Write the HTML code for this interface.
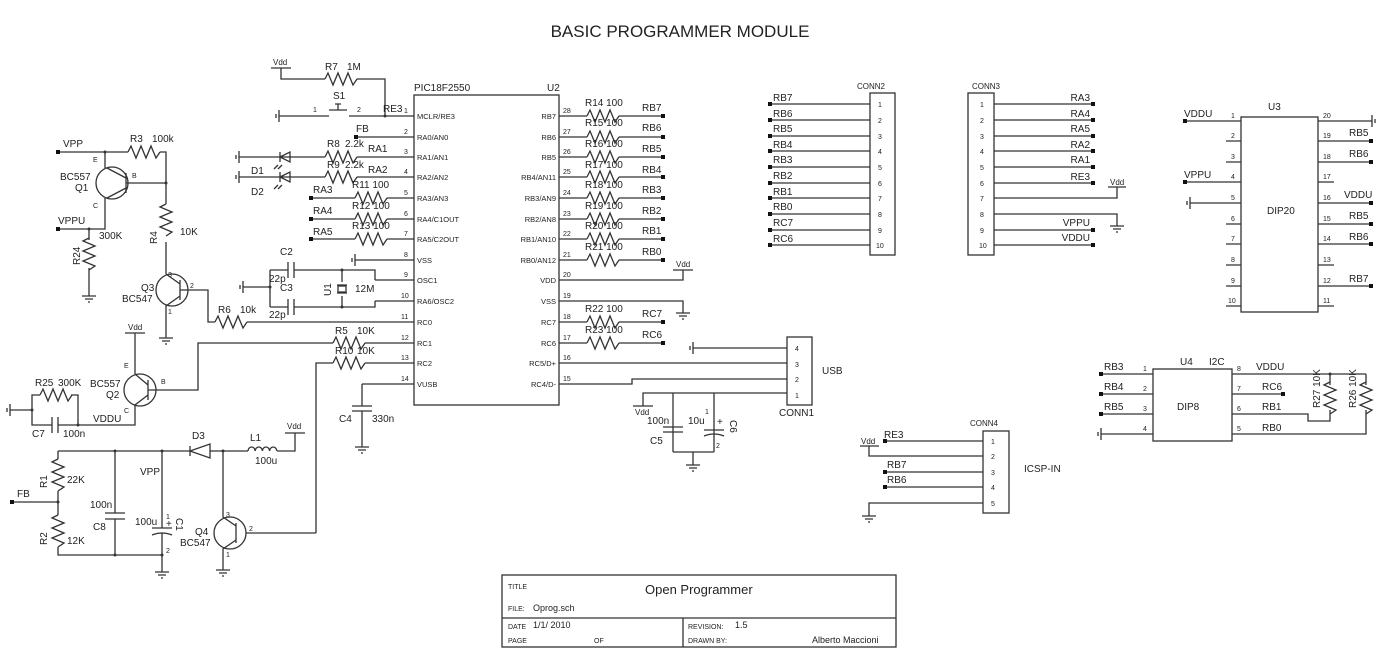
<!DOCTYPE html>
<html><head><meta charset="utf-8"><style>
html,body{margin:0;padding:0;background:#fff}
svg{display:block}
text{font-family:"Liberation Sans",Arial,sans-serif;fill:#222}
.w{stroke:#333;stroke-width:1.3;fill:none}
.s{font-size:10px}.p{font-size:7px}.m{font-size:11px}
</style></head><body>
<svg width="1397" height="667" viewBox="0 0 1397 667" xmlns="http://www.w3.org/2000/svg">
<defs>
<path id="rh" d="M0,0 l3,-6 l5,12 l5,-12 l5,12 l5,-12 l5,12 l4,-6" class="w"/>
<path id="rv" d="M0,0 l-6,3 l12,5 l-12,5 l12,5 l-12,5 l12,5 l-6,4" class="w"/>
<g id="gl"><path d="M0,-6 V6 M-3,-2 V2" class="w"/></g>
<g id="gd"><path d="M-7,0 H7 M-4,3 H4 M-1,6 H1" class="w"/></g>
<rect id="t" x="-2" y="-2" width="4" height="4" fill="#111"/>
</defs>
<text x="680" y="37" font-size="17" text-anchor="middle">BASIC PROGRAMMER MODULE</text>

<!-- PIC -->
<rect x="414" y="95" width="145" height="310" class="w"/>
<text x="414" y="91" class="s">PIC18F2550</text><text x="547" y="91" class="s">U2</text>
<g class="w">
<path d="M385,116H414 M356,137H414 M357,157H414 M357,177H414 M387,198H414 M387,219H414 M387,239H414 M355,260H414 M375,280H414 M375,301H414 M247,322H414 M365,343H414 M365,363H414 M362,384H414"/>
<path d="M559,116H587 M559,137H587 M559,157H587 M559,177H587 M559,198H587 M559,219H587 M559,239H587 M559,260H587 M559,322H587 M559,343H587"/>
<path d="M619,116H663 M619,137H663 M619,157H663 M619,177H663 M619,198H663 M619,219H663 M619,239H663 M619,260H663 M619,322H663 M619,343H663"/>
<path d="M559,280H683V270 M559,301H683V313 M559,363H787 M559,384H632V379H787"/>
</g>
<g class="p">
<text x="404" y="113">1</text><text x="404" y="134">2</text><text x="404" y="154">3</text><text x="404" y="174">4</text><text x="404" y="195">5</text><text x="404" y="216">6</text><text x="404" y="236">7</text><text x="404" y="257">8</text><text x="404" y="277">9</text><text x="401" y="298">10</text><text x="401" y="319">11</text><text x="401" y="340">12</text><text x="401" y="360">13</text><text x="401" y="381">14</text>
<text x="563" y="113">28</text><text x="563" y="134">27</text><text x="563" y="154">26</text><text x="563" y="174">25</text><text x="563" y="195">24</text><text x="563" y="216">23</text><text x="563" y="236">22</text><text x="563" y="257">21</text><text x="563" y="277">20</text><text x="563" y="298">19</text><text x="563" y="319">18</text><text x="563" y="340">17</text><text x="563" y="360">16</text><text x="563" y="381">15</text>
</g>
<g font-size="7.5">
<text x="417" y="119">MCLR/RE3</text><text x="417" y="140">RA0/AN0</text><text x="417" y="160">RA1/AN1</text><text x="417" y="180">RA2/AN2</text><text x="417" y="201">RA3/AN3</text><text x="417" y="222">RA4/C1OUT</text><text x="417" y="242">RA5/C2OUT</text><text x="417" y="263">VSS</text><text x="417" y="283">OSC1</text><text x="417" y="304">RA6/OSC2</text><text x="417" y="325">RC0</text><text x="417" y="346">RC1</text><text x="417" y="366">RC2</text><text x="417" y="387">VUSB</text>
<g text-anchor="end"><text x="556" y="119">RB7</text><text x="556" y="140">RB6</text><text x="556" y="160">RB5</text><text x="556" y="180">RB4/AN11</text><text x="556" y="201">RB3/AN9</text><text x="556" y="222">RB2/AN8</text><text x="556" y="242">RB1/AN10</text><text x="556" y="263">RB0/AN12</text><text x="556" y="283">VDD</text><text x="556" y="304">VSS</text><text x="556" y="325">RC7</text><text x="556" y="346">RC6</text><text x="556" y="366">RC5/D+</text><text x="556" y="387">RC4/D-</text></g>
</g>
<!-- right resistors -->
<use href="#rh" x="587" y="116"/><use href="#rh" x="587" y="137"/><use href="#rh" x="587" y="157"/><use href="#rh" x="587" y="177"/><use href="#rh" x="587" y="198"/><use href="#rh" x="587" y="219"/><use href="#rh" x="587" y="239"/><use href="#rh" x="587" y="260"/><use href="#rh" x="587" y="322"/><use href="#rh" x="587" y="343"/>
<g class="s">
<text x="585" y="106">R14 100</text><text x="585" y="126">R15 100</text><text x="585" y="147">R16 100</text><text x="585" y="168">R17 100</text><text x="585" y="188">R18 100</text><text x="585" y="209">R19 100</text><text x="585" y="229">R20 100</text><text x="585" y="250">R21 100</text><text x="585" y="312">R22 100</text><text x="585" y="333">R23 100</text>
<text x="642" y="111">RB7</text><text x="642" y="131">RB6</text><text x="642" y="152">RB5</text><text x="642" y="173">RB4</text><text x="642" y="193">RB3</text><text x="642" y="214">RB2</text><text x="642" y="234">RB1</text><text x="642" y="255">RB0</text><text x="642" y="317">RC7</text><text x="642" y="338">RC6</text>
</g>
<use href="#t" x="663" y="116"/><use href="#t" x="663" y="137"/><use href="#t" x="663" y="157"/><use href="#t" x="663" y="177"/><use href="#t" x="663" y="198"/><use href="#t" x="663" y="219"/><use href="#t" x="663" y="239"/><use href="#t" x="663" y="260"/><use href="#t" x="663" y="322"/><use href="#t" x="663" y="343"/>
<path d="M673,270H693" class="w"/><text x="676" y="267" font-size="8">Vdd</text>
<use href="#gd" x="683" y="313"/>

<!-- USB CONN1 -->
<rect x="787" y="337" width="25" height="68" class="w"/>
<g class="p"><text x="795" y="351">4</text><text x="795" y="367">3</text><text x="795" y="382">2</text><text x="795" y="398">1</text></g>
<text x="822" y="374" class="s">USB</text><text x="779" y="416" class="s">CONN1</text>
<path d="M693,348H787 M643,406V393H787 M673,393V452 M714,393V452 M673,452H714 M693,452V465" class="w"/>
<use href="#gl" x="693" y="348"/>
<path d="M633,406H653" class="w"/><text x="635" y="415" font-size="8">Vdd</text>
<path d="M663,427H683 M663,432H683 M704,430H724 M704,436Q714,432 724,436" class="w"/>
<use href="#gd" x="693" y="465"/>
<text x="647" y="424" class="s">100n</text><text x="688" y="424" class="s">10u</text><text x="650" y="444" class="s">C5</text>
<text x="717" y="425" class="s">+</text><text x="730" y="420" class="s" transform="rotate(90 730 420)">C6</text>
<text x="705" y="414" class="p">1</text><text x="716" y="448" class="p">2</text>

<!-- CONN2 -->
<rect x="870" y="93" width="25" height="162" class="w"/>
<text x="857" y="89" font-size="8">CONN2</text>
<g class="w"><path d="M770,104H870 M770,120H870 M770,136H870 M770,151H870 M770,167H870 M770,183H870 M770,198H870 M770,214H870 M770,230H870 M770,245H870"/></g>
<g class="p"><text x="878" y="107">1</text><text x="878" y="123">2</text><text x="878" y="139">3</text><text x="878" y="154">4</text><text x="878" y="170">5</text><text x="878" y="186">6</text><text x="878" y="201">7</text><text x="878" y="217">8</text><text x="878" y="233">9</text><text x="876" y="248">10</text></g>
<g class="s"><text x="773" y="101">RB7</text><text x="773" y="117">RB6</text><text x="773" y="132">RB5</text><text x="773" y="148">RB4</text><text x="773" y="163">RB3</text><text x="773" y="179">RB2</text><text x="773" y="195">RB1</text><text x="773" y="210">RB0</text><text x="773" y="226">RC7</text><text x="773" y="242">RC6</text></g>
<use href="#t" x="770" y="104"/><use href="#t" x="770" y="120"/><use href="#t" x="770" y="136"/><use href="#t" x="770" y="151"/><use href="#t" x="770" y="167"/><use href="#t" x="770" y="183"/><use href="#t" x="770" y="198"/><use href="#t" x="770" y="214"/><use href="#t" x="770" y="230"/><use href="#t" x="770" y="245"/>

<!-- CONN3 -->
<rect x="968" y="93" width="26" height="162" class="w"/>
<text x="972" y="89" font-size="8">CONN3</text>
<g class="w"><path d="M994,104H1093 M994,120H1093 M994,136H1093 M994,151H1093 M994,167H1093 M994,183H1093 M994,198H1117V187 M994,214H1117V226 M994,230H1093 M994,245H1093"/></g>
<g class="p"><text x="980" y="107">1</text><text x="980" y="123">2</text><text x="980" y="139">3</text><text x="980" y="154">4</text><text x="980" y="170">5</text><text x="980" y="186">6</text><text x="980" y="201">7</text><text x="980" y="217">8</text><text x="980" y="233">9</text><text x="979" y="248">10</text></g>
<g class="s" text-anchor="end"><text x="1090" y="101">RA3</text><text x="1090" y="117">RA4</text><text x="1090" y="132">RA5</text><text x="1090" y="148">RA2</text><text x="1090" y="163">RA1</text><text x="1090" y="180">RE3</text><text x="1090" y="226">VPPU</text><text x="1090" y="241">VDDU</text></g>
<use href="#t" x="1093" y="104"/><use href="#t" x="1093" y="120"/><use href="#t" x="1093" y="136"/><use href="#t" x="1093" y="151"/><use href="#t" x="1093" y="167"/><use href="#t" x="1093" y="183"/><use href="#t" x="1093" y="230"/><use href="#t" x="1093" y="245"/>
<path d="M1108,187H1126" class="w"/><text x="1110" y="185" font-size="8">Vdd</text>
<use href="#gd" x="1117" y="226"/>

<!-- U3 -->
<rect x="1241" y="117" width="77" height="195" class="w"/>
<text x="1268" y="110" class="s">U3</text><text x="1267" y="214" class="s">DIP20</text>
<g class="w"><path d="M1185,121H1241 M1226,141H1241 M1226,162H1241 M1185,182H1241 M1190,203H1241 M1226,224H1241 M1226,244H1241 M1226,265H1241 M1226,286H1241 M1226,306H1241
M1318,121H1372 M1318,141H1371 M1318,162H1371 M1318,182H1334 M1318,203H1371 M1318,224H1371 M1318,244H1371 M1318,265H1334 M1318,286H1371 M1318,306H1334"/></g>
<use href="#gl" x="1190" y="203"/><g transform="translate(1372,121) scale(-1,1)"><use href="#gl"/></g>
<g class="p"><text x="1231" y="118">1</text><text x="1231" y="138">2</text><text x="1231" y="159">3</text><text x="1231" y="179">4</text><text x="1231" y="200">5</text><text x="1231" y="221">6</text><text x="1231" y="241">7</text><text x="1231" y="262">8</text><text x="1231" y="283">9</text><text x="1228" y="303">10</text>
<text x="1323" y="118">20</text><text x="1323" y="138">19</text><text x="1323" y="159">18</text><text x="1323" y="179">17</text><text x="1323" y="200">16</text><text x="1323" y="221">15</text><text x="1323" y="241">14</text><text x="1323" y="262">13</text><text x="1323" y="283">12</text><text x="1323" y="303">11</text></g>
<g class="s"><text x="1184" y="117">VDDU</text><text x="1184" y="178">VPPU</text>
<text x="1349" y="136">RB5</text><text x="1349" y="157">RB6</text><text x="1344" y="198">VDDU</text><text x="1349" y="219">RB5</text><text x="1349" y="240">RB6</text><text x="1349" y="282">RB7</text></g>
<use href="#t" x="1185" y="121"/><use href="#t" x="1185" y="182"/><use href="#t" x="1371" y="141"/><use href="#t" x="1371" y="162"/><use href="#t" x="1371" y="203"/><use href="#t" x="1371" y="224"/><use href="#t" x="1371" y="244"/><use href="#t" x="1371" y="286"/>

<!-- U4 -->
<rect x="1153" y="369" width="79" height="72" class="w"/>
<text x="1180" y="365" class="s">U4</text><text x="1209" y="365" class="s">I2C</text><text x="1177" y="410" class="s">DIP8</text>
<g class="w"><path d="M1101,374H1153 M1101,394H1153 M1101,414H1153 M1101,434H1153 M1232,374H1366 M1232,394H1283 M1232,414H1308V421H1330V410 M1232,434H1366V410 M1330,374V385 M1366,374V385"/></g>
<use href="#rv" x="1330" y="382"/><use href="#rv" x="1366" y="382"/>
<circle cx="1330" cy="374" r="1.5" fill="#333"/>
<use href="#gl" x="1101" y="434"/>
<use href="#t" x="1101" y="374"/><use href="#t" x="1101" y="394"/><use href="#t" x="1101" y="414"/><use href="#t" x="1283" y="394"/>
<g class="p"><text x="1143" y="371">1</text><text x="1143" y="391">2</text><text x="1143" y="411">3</text><text x="1143" y="431">4</text><text x="1237" y="371">8</text><text x="1237" y="391">7</text><text x="1237" y="411">6</text><text x="1237" y="431">5</text></g>
<g class="s"><text x="1104" y="370">RB3</text><text x="1104" y="390">RB4</text><text x="1104" y="410">RB5</text><text x="1256" y="370">VDDU</text><text x="1262" y="390">RC6</text><text x="1262" y="410">RB1</text><text x="1262" y="431">RB0</text>
<text x="1320" y="408" transform="rotate(-90 1320 408)">R27 10K</text><text x="1356" y="408" transform="rotate(-90 1356 408)">R26 10K</text></g>

<!-- CONN4 -->
<rect x="983" y="431" width="26" height="82" class="w"/>
<text x="970" y="426" font-size="8">CONN4</text><text x="1024" y="472" class="s">ICSP-IN</text>
<g class="w"><path d="M885,441H983 M869,446V456H983 M885,472H983 M885,487H983 M869,516V503H983 M860,446H879"/></g>
<use href="#gd" x="869" y="516"/>
<g class="p"><text x="991" y="444">1</text><text x="991" y="459">2</text><text x="991" y="475">3</text><text x="991" y="490">4</text><text x="991" y="506">5</text></g>
<text x="861" y="444" font-size="8">Vdd</text>
<g class="s"><text x="884" y="438">RE3</text><text x="887" y="468">RB7</text><text x="887" y="483">RB6</text></g>
<use href="#t" x="885" y="441"/><use href="#t" x="885" y="472"/><use href="#t" x="885" y="487"/>

<!-- left top: R7 S1 -->
<path d="M271,68H291 M281,68V79H325 M357,79H385V116 M279,116H329 M349,116H385 M329,110H347 M338,110V104 M335,104H341" class="w"/>
<use href="#rh" x="325" y="79"/>
<text x="273" y="65" font-size="8">Vdd</text>
<use href="#gl" x="279" y="116"/><circle cx="385" cy="116" r="1.5" fill="#333"/>
<g class="s"><text x="325" y="70">R7</text><text x="347" y="70">1M</text><text x="333" y="99">S1</text><text x="383" y="112">RE3</text><text x="356" y="132">FB</text></g>
<g class="p"><text x="313" y="112">1</text><text x="357" y="112">2</text></g>
<use href="#t" x="356" y="137"/>
<!-- D1 D2 R8 R9 -->
<path d="M239,157H325 M239,177H325 M280,157L290,152V162Z M280,177L290,172V182Z M280,152V162 M280,172V182" class="w"/>
<use href="#gl" x="239" y="157"/><use href="#gl" x="239" y="177"/>
<use href="#rh" x="325" y="157"/><use href="#rh" x="325" y="177"/>
<path d="M278,165l-4,4 M282,165l-4,4 M278,185l-4,4 M282,185l-4,4" class="w" stroke-width="1"/>
<g class="s"><text x="327" y="147">R8</text><text x="345" y="147">2.2k</text><text x="368" y="152">RA1</text><text x="327" y="168">R9</text><text x="345" y="168">2.2k</text><text x="368" y="173">RA2</text><text x="251" y="174">D1</text><text x="251" y="195">D2</text>
<text x="313" y="193">RA3</text><text x="313" y="214">RA4</text><text x="313" y="235">RA5</text><text x="352" y="188">R11 100</text><text x="352" y="209">R12 100</text><text x="352" y="229">R13 100</text></g>
<path d="M311,198H355 M311,219H355 M311,239H355" class="w"/>
<use href="#rh" x="355" y="198"/><use href="#rh" x="355" y="219"/><use href="#rh" x="355" y="239"/>
<use href="#t" x="311" y="198"/><use href="#t" x="311" y="219"/><use href="#t" x="311" y="239"/>
<use href="#gl" x="355" y="260"/>
<!-- crystal -->
<path d="M243,287H270 M270,270V307 M270,270H288 M294,270H375V280 M270,307H288 M294,307H375V301 M288,262V278 M294,262V278 M288,299V315 M294,299V315 M342,270V282 M342,296V307 M337,285H347 M337,293H347" class="w"/>
<rect x="338" y="286" width="8" height="6" class="w"/>
<use href="#gl" x="243" y="287"/>
<circle cx="342" cy="270" r="1.5" fill="#333"/><circle cx="342" cy="307" r="1.5" fill="#333"/><circle cx="270" cy="287" r="1.5" fill="#333"/>
<g class="s"><text x="280" y="255">C2</text><text x="269" y="282">22p</text><text x="280" y="291">C3</text><text x="269" y="318">22p</text><text x="355" y="292">12M</text><text x="331" y="296" transform="rotate(-90 331 296)">U1</text></g>

<!-- Q1 -->
<path d="M58,152H128 M160,152H166V204 M166,242V274 M126,183H166 M105,152V168 M105,198V229H58 M89,229V240 M89,268V296 M126,173V193 M126,178L107,168 M126,188L107,198" class="w"/>
<circle cx="112" cy="183" r="16" class="w"/>
<use href="#rh" x="128" y="152"/><use href="#rv" x="166" y="204"/><use href="#rv" x="89" y="238"/>
<circle cx="105" cy="152" r="1.5" fill="#333"/><circle cx="166" cy="183" r="1.5" fill="#333"/><circle cx="89" cy="229" r="1.5" fill="#333"/>
<use href="#t" x="58" y="152"/><use href="#t" x="58" y="229"/><use href="#gd" x="89" y="296"/>
<g class="s"><text x="63" y="147">VPP</text><text x="58" y="224">VPPU</text><text x="130" y="142">R3</text><text x="152" y="142">100k</text><text x="60" y="180">BC557</text><text x="75" y="191">Q1</text><text x="99" y="239">300K</text><text x="180" y="235">10K</text>
<text x="80" y="265" transform="rotate(-90 80 265)">R24</text><text x="157" y="244" transform="rotate(-90 157 244)">R4</text></g>
<g class="p"><text x="93" y="162">E</text><text x="93" y="208">C</text><text x="132" y="178">B</text></g>
<!-- Q3 -->
<circle cx="172" cy="290" r="16" class="w"/>
<path d="M166,274L180,284 M180,280V300 M180,296L166,306V338 M180,290H208V322H215" class="w"/>
<use href="#rh" x="215" y="322"/><use href="#gd" x="166" y="338"/>
<g class="s"><text x="141" y="291">Q3</text><text x="122" y="302">BC547</text><text x="218" y="313">R6</text><text x="240" y="313">10k</text></g>
<g class="p"><text x="168" y="277">3</text><text x="190" y="288">2</text><text x="168" y="314">1</text></g>
<!-- Q2 -->
<circle cx="140" cy="390" r="16" class="w"/>
<path d="M125,333H145 M135,333V374 M148,380V400 M135,374L148,385 M148,395L135,405V425H78 M148,390H198V343H333 M32,410V395H40 M71,395H78V425 M32,410V425H52 M58,425H78 M52,417V433 M58,417V433 M10,410H32" class="w"/>
<use href="#rh" x="40" y="395"/><use href="#rh" x="333" y="343"/>
<use href="#gl" x="10" y="410"/><circle cx="32" cy="410" r="1.5" fill="#333"/><circle cx="78" cy="425" r="1.5" fill="#333"/>
<text x="128" y="330" font-size="8">Vdd</text>
<g class="s"><text x="90" y="387">BC557</text><text x="106" y="398">Q2</text><text x="35" y="386">R25</text><text x="58" y="386">300K</text><text x="32" y="437">C7</text><text x="63" y="437">100n</text><text x="93" y="422">VDDU</text>
<text x="335" y="334">R5</text><text x="357" y="334">10K</text><text x="335" y="354">R10</text><text x="357" y="354">10K</text></g>
<g class="p"><text x="124" y="368">E</text><text x="124" y="413">C</text><text x="161" y="384">B</text></g>
<!-- R10 / Q4 -->
<path d="M316,533V363H333" class="w"/><use href="#rh" x="333" y="363"/>
<path d="M362,384V406 M352,406H372 M352,411H372 M362,411V447" class="w"/><use href="#gd" x="362" y="447"/>
<g class="s"><text x="339" y="422">C4</text><text x="372" y="422">330n</text></g>
<!-- bottom -->
<path d="M58,451H190 M210,451H248 M277,451H295V433 M285,433H305 M190,446V456 M190,451L210,444V458Z M58,451V459 M58,491V515 M58,547V555H162 M12,502H58 M115,451V513 M115,519V555 M105,513H125 M105,519H125 M162,451V528 M152,528H172 M152,535Q162,531 172,535 M162,533V572" class="w"/>
<path d="M248,451a3.6,4 0 0 1 7.2,0a3.6,4 0 0 1 7.2,0a3.6,4 0 0 1 7.2,0a3.6,4 0 0 1 7.2,0" class="w"/>
<use href="#rv" x="58" y="459"/><use href="#rv" x="58" y="515"/>
<circle cx="58" cy="502" r="1.5" fill="#333"/><circle cx="115" cy="451" r="1.5" fill="#333"/><circle cx="162" cy="451" r="1.5" fill="#333"/><circle cx="223" cy="451" r="1.5" fill="#333"/><circle cx="115" cy="555" r="1.5" fill="#333"/><circle cx="162" cy="555" r="1.5" fill="#333"/>
<use href="#t" x="12" y="502"/><use href="#gd" x="162" y="572"/>
<text x="287" y="429" font-size="8">Vdd</text>
<circle cx="230" cy="533" r="16" class="w"/>
<path d="M223,451V517L236,526 M236,523V543 M236,540L223,549V570 M246,533H316" class="w"/>
<use href="#gd" x="223" y="570"/>
<g class="s"><text x="67" y="483">22K</text><text x="67" y="544">12K</text><text x="17" y="497">FB</text><text x="90" y="508">100n</text><text x="93" y="530">C8</text><text x="135" y="525">100u</text><text x="140" y="475">VPP</text><text x="192" y="439">D3</text><text x="250" y="441">L1</text><text x="255" y="464">100u</text><text x="195" y="535">Q4</text><text x="180" y="546">BC547</text><text x="166" y="527">+</text>
<text x="47" y="488" transform="rotate(-90 47 488)">R1</text><text x="47" y="545" transform="rotate(-90 47 545)">R2</text><text x="176" y="518" transform="rotate(90 176 518)">C1</text></g>
<g class="p"><text x="226" y="517">3</text><text x="249" y="531">2</text><text x="226" y="557">1</text><text x="166" y="519">1</text><text x="166" y="553">2</text></g>

<!-- title block -->
<rect x="502" y="575" width="394" height="72" class="w"/>
<path d="M502,618H896 M683,618V647" class="w"/>
<g font-size="7"><text x="508" y="589">TITLE</text><text x="508" y="611">FILE:</text><text x="508" y="629">DATE</text><text x="508" y="643">PAGE</text><text x="594" y="643">OF</text><text x="688" y="629">REVISION:</text><text x="688" y="643">DRAWN BY:</text></g>
<text x="645" y="594" font-size="13">Open Programmer</text>
<g font-size="9"><text x="533" y="611">Oprog.sch</text><text x="533" y="628">1/1/ 2010</text><text x="735" y="628">1.5</text><text x="812" y="643">Alberto Maccioni</text></g>
</svg>
</body></html>
